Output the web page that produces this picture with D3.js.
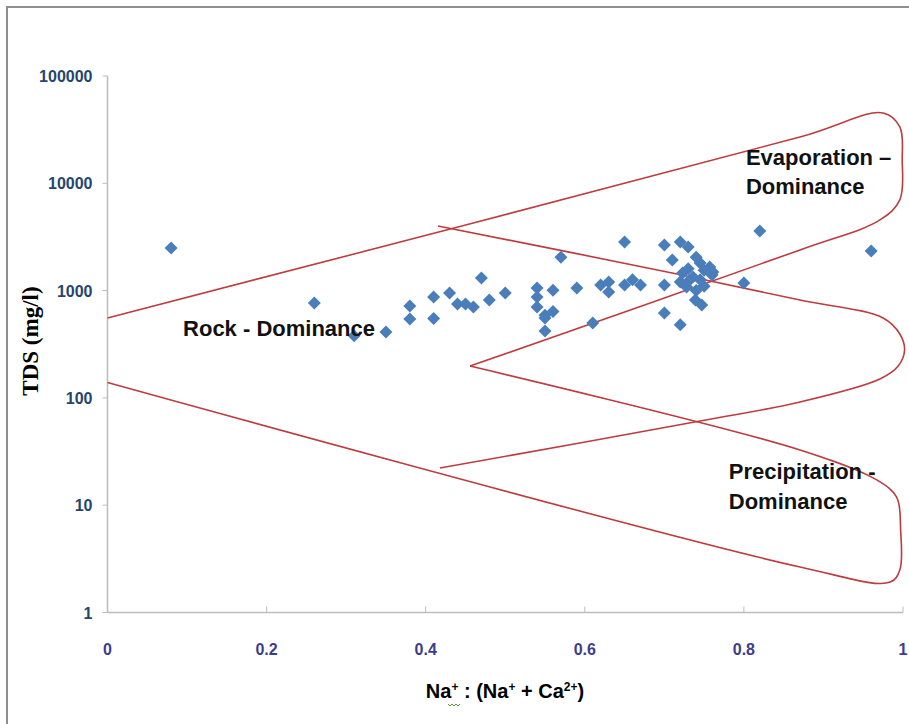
<!DOCTYPE html>
<html lang="en">
<head>
  <meta charset="utf-8">
  <title>Gibbs diagram</title>
  <script src="https://d3js.org/d3.v7.min.js"></script>
  <style>
  body {
    margin: 0;
    background: #fff;
    font-family: "Liberation Sans", Arial, sans-serif;
  }
  .tick-y { fill: #24466e; font-size: 16px; font-weight: bold; text-anchor: end; }
  .tick-x { fill: #3d3b8e; font-size: 16px; font-weight: bold; text-anchor: middle; }
  .zone { fill: #111; font-size: 22px; font-weight: bold; }
  .boundary { fill: none; stroke: #bd3c40; stroke-width: 1.6px; }
  </style>
</head>
<body>
<script>

// Axis ticks
var xTicks = [0, 0.2, 0.4, 0.6, 0.8, 1];
var yTicks = [1, 10, 100, 1000, 10000, 100000];

// Samples: Na/(Na+Ca) and TDS (mg/l)
var sampleRatio = [0.08, 0.26, 0.31, 0.35, 0.38, 0.38, 0.41, 0.41, 0.43, 0.44, 0.45, 0.46,
  0.47, 0.48, 0.50, 0.54, 0.54, 0.54, 0.56, 0.55, 0.56, 0.55, 0.55, 0.57, 0.59, 0.61,
  0.62, 0.63, 0.63, 0.65, 0.65, 0.66, 0.67, 0.70, 0.70, 0.70, 0.72, 0.72, 0.73, 0.71,
  0.74, 0.745, 0.757, 0.761, 0.723, 0.736, 0.72, 0.728, 0.745, 0.728, 0.739, 0.747,
  0.75, 0.74, 0.76, 0.73, 0.75, 0.80, 0.82, 0.96];
var sampleTDS = [2500, 766, 380, 412, 720, 545, 870, 550, 950, 750, 750, 705,
  1310, 817, 950, 1060, 870, 705, 1010, 590, 640, 556, 421, 2050, 1060, 500,
  1130, 1200, 970, 2840, 1130, 1260, 1130, 2660, 1130, 620, 480, 2840, 2550, 1930,
  2050, 1810, 1660, 1490, 1460, 1340, 1200, 1180, 1260, 1080, 817, 734,
  1550, 1000, 1400, 1600, 1100, 1180, 3590, 2340];

// Boundary curves (Gibbs envelope)
var outerTopX = [0, 0.8705, 0.975, 0.996, 0.999, 0.996, 0.971, 0.8705, 0.4557];
var outerTopY = [556, 27000, 45200, 33500, 16500, 7000, 4560, 2390, 198];
var outerBottomX = [0.4557, 0.8705, 0.967, 0.992, 0.997, 0.996, 0.984, 0.8705, 0];
var outerBottomY = [198, 32.7, 17.2, 11.9, 5.9, 2.49, 1.92, 2.66, 139];
var innerX = [0.4155, 0.716, 0.8705, 0.975, 0.996, 1.002, 0.994, 0.971, 0.8705, 0.745, 0.418];
var innerY = [4000, 1430, 817, 556, 394, 279, 198, 150, 91.6, 60.9, 22.2];

var width = 909;
var height = 724;

var x = d3.scaleLinear().domain([0, 1]).range([107.5, 903]);
var y = d3.scaleLog().domain([1, 100000]).range([612.5, 76]);

var svg = d3.select("body").append("svg")
  .attr("width", width)
  .attr("height", height);

// chart frame
svg.append("rect")
  .attr("x", 7).attr("y", 7)
  .attr("width", width + 10).attr("height", height + 10)
  .attr("fill", "#fff")
  .attr("stroke", "#8e8e8e")
  .attr("stroke-width", 2);

// axes
svg.append("line")
  .attr("x1", x(0)).attr("x2", x(0))
  .attr("y1", y(100000)).attr("y2", y(1))
  .attr("stroke", "#bcbcbc").attr("stroke-width", 1.5);
svg.append("line")
  .attr("x1", x(0)).attr("x2", x(1))
  .attr("y1", y(1)).attr("y2", y(1))
  .attr("stroke", "#bcbcbc").attr("stroke-width", 1.5);

svg.selectAll(".ytick").data(yTicks).enter().append("line")
  .attr("x1", x(0) - 5).attr("x2", x(0))
  .attr("y1", function(d) { return y(d); })
  .attr("y2", function(d) { return y(d); })
  .attr("stroke", "#bcbcbc");

svg.selectAll(".xtick").data(xTicks).enter().append("line")
  .attr("x1", function(d) { return x(d); })
  .attr("x2", function(d) { return x(d); })
  .attr("y1", y(1) - 6).attr("y2", y(1))
  .attr("stroke", "#bcbcbc");

svg.selectAll(".tick-y").data(yTicks).enter().append("text")
  .attr("class", "tick-y")
  .attr("x", x(0) - 15)
  .attr("y", function(d) { return y(d) + 6; })
  .text(function(d) { return d; });

svg.selectAll(".tick-x").data(xTicks).enter().append("text")
  .attr("class", "tick-x")
  .attr("x", function(d) { return x(d); })
  .attr("y", y(1) + 42)
  .text(function(d) { return d; });

// axis titles
svg.append("text")
  .attr("transform", "translate(38,341) rotate(-90)")
  .attr("text-anchor", "middle")
  .style("font-family", "'Liberation Serif', 'Times New Roman', serif")
  .style("font-weight", "bold")
  .style("font-size", "23px")
  .text("TDS (mg/l)");

var xt = svg.append("text")
  .attr("x", 505).attr("y", 698)
  .attr("text-anchor", "middle")
  .style("font-weight", "bold")
  .style("font-size", "20px");
xt.append("tspan").text("Na");
xt.append("tspan").attr("dy", -7).style("font-size", "12px").text("+");
xt.append("tspan").attr("dy", 7).text(" : (Na");
xt.append("tspan").attr("dy", -7).style("font-size", "12px").text("+");
xt.append("tspan").attr("dy", 7).text(" + Ca");
xt.append("tspan").attr("dy", -7).style("font-size", "12px").text("2+");
xt.append("tspan").attr("dy", 7).text(")");

// spell-check squiggle under the colon
svg.append("path")
  .attr("d", "M448,704 l2,2 l2,-2 l2,2 l2,-2 l2,2 l2,-2")
  .attr("fill", "none")
  .attr("stroke", "#5a9a3a")
  .attr("stroke-width", 1);

// boundary lines
var line = d3.line()
  .x(function(d) { return x(d[0]); })
  .y(function(d) { return y(d[1]); })
  .curve(d3.curveCatmullRom.alpha(0.5));

function zip(a, b) { return a.map(function(v, i) { return [v, b[i]]; }); }

[zip(outerTopX, outerTopY), zip(outerBottomX, outerBottomY), zip(innerX, innerY)]
  .forEach(function(pts) {
    svg.append("path").attr("class", "boundary").attr("d", line(pts));
  });

// samples
svg.selectAll(".pt").data(d3.range(sampleRatio.length)).enter().append("path")
  .attr("class", "pt")
  .attr("d", "M0,-6.5L6.5,0L0,6.5L-6.5,0Z")
  .attr("fill", "#4a7ebb")
  .attr("transform", function(i) {
    return "translate(" + x(sampleRatio[i]) + "," + y(sampleTDS[i]) + ")";
  });

// zone labels
var zones = [
  {text: "Rock - Dominance", rx: 0.095, tds: 380},
  {text: "Evaporation \u2013", rx: 0.8025, tds: 14800},
  {text: "Dominance", rx: 0.8025, tds: 7940},
  {text: "Precipitation -", rx: 0.781, tds: 17.6},
  {text: "Dominance", rx: 0.781, tds: 9.2}
];
svg.selectAll(".zone").data(zones).enter().append("text")
  .attr("class", "zone")
  .attr("x", function(d) { return x(d.rx); })
  .attr("y", function(d) { return y(d.tds); })
  .text(function(d) { return d.text; });

</script>
</body>
</html>
